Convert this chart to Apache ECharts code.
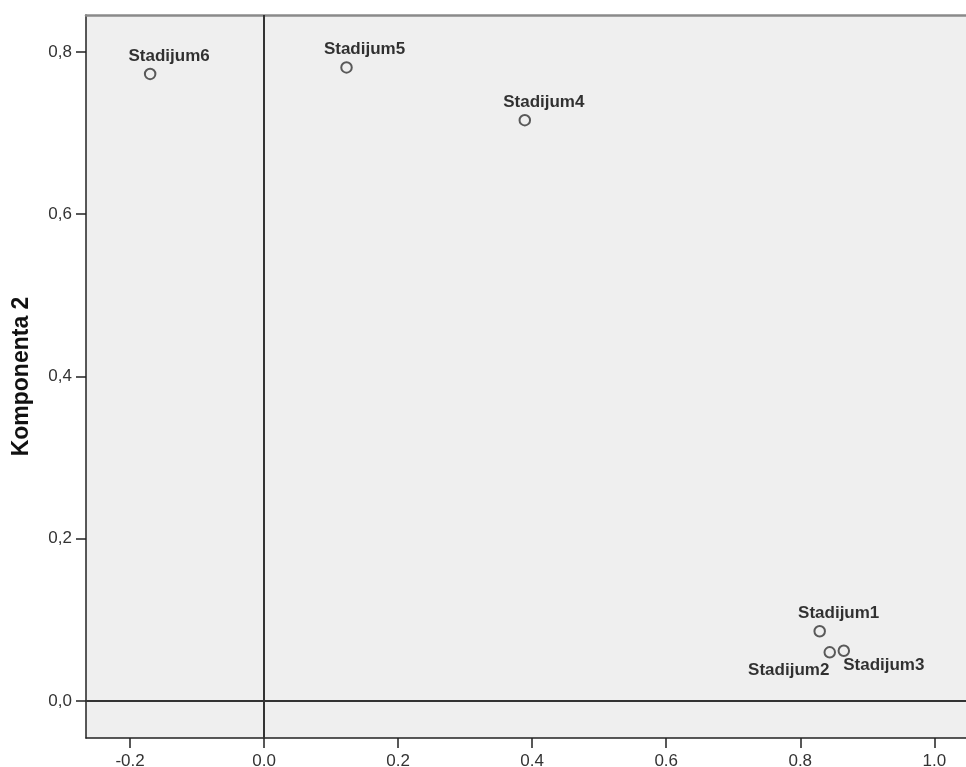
<!DOCTYPE html>
<html><head><meta charset="utf-8">
<script src="https://cdn.jsdelivr.net/npm/echarts@6/dist/echarts.min.js"></script>
<style>html,body{margin:0;padding:0;background:#fff}#c{width:966px;height:767px}</style>
</head><body><div id="c"></div>
<script>
const names = ['Stadijum1','Stadijum2','Stadijum3','Stadijum4','Stadijum5','Stadijum6'];
const comp1 = [0.829, 0.844, 0.865, 0.389, 0.123, -0.170];
const comp2 = [0.086, 0.060, 0.062, 0.716, 0.781, 0.773];
const xTicks = [-0.2, 0.0, 0.2, 0.4, 0.6, 0.8, 1.0];
const yTicks = [0.0, 0.2, 0.4, 0.6, 0.8];
const yTitle = 'Komponenta 2';

const labelPlacement = {
  Stadijum1: {position:'top', offset:[19,2]},
  Stadijum2: {position:'bottom', offset:[-41,-2]},
  Stadijum3: {position:'bottom', offset:[40,-5]},
  Stadijum4: {position:'top', offset:[19,2]},
  Stadijum5: {position:'top', offset:[18,2]},
  Stadijum6: {position:'top', offset:[19,2]}
};

const data = names.map((n,i)=>({name:n, value:[comp1[i], comp2[i]], label: labelPlacement[n]}));

const chart = echarts.init(document.getElementById('c'));
const fontFam = 'Liberation Sans, Arial, sans-serif';
const xMin = -0.2657, xMax = 1.0473;
chart.setOption({
  animation:false,
  grid:{left:86, top:15, right:0, bottom:29, show:true, backgroundColor:'#efefef', borderWidth:0,
        containLabel:false, outerBoundsMode:'none'},
  xAxis:[{
    type:'value', min:xMin, max:xMax, position:'bottom',
    axisLine:{show:true, onZero:false, lineStyle:{color:'#222', width:1.5}},
    axisTick:{show:true, length:10, customValues:xTicks, lineStyle:{color:'#222', width:1.5}},
    axisLabel:{customValues:xTicks, formatter:v=>v.toFixed(1), fontFamily:fontFam, fontSize:17, color:'#333', margin:15},
    splitLine:{show:false}
  },{
    type:'value', min:xMin, max:xMax, position:'top',
    axisLine:{show:true, onZero:false, lineStyle:{color:'#8a8a8a', width:2.5}},
    axisTick:{show:false}, axisLabel:{show:false}, splitLine:{show:false}
  }],
  yAxis:{
    type:'value', min:-0.0456, max:0.8456,
    name:yTitle, nameLocation:'middle', nameGap:53, nameRotate:90,
    nameTextStyle:{fontFamily:fontFam, fontSize:23, fontWeight:'bold', color:'#111'},
    axisLine:{show:true, onZero:false, lineStyle:{color:'#222', width:1.5}},
    axisTick:{show:true, length:10, customValues:yTicks, lineStyle:{color:'#222', width:1.5}},
    axisLabel:{customValues:yTicks, formatter:v=>v.toFixed(1).replace('.',','), fontFamily:fontFam, fontSize:17, color:'#333', margin:14},
    splitLine:{show:false}
  },
  series:[{
    type:'scatter', xAxisIndex:0, data:data,
    symbol:'circle', symbolSize:10.5,
    itemStyle:{color:'#efefef', borderColor:'#333', borderWidth:2},
    label:{show:true, formatter:'{b}', fontFamily:fontFam, fontSize:17, fontWeight:'bold', color:'#000'},
    markLine:{
      silent:true, symbol:'none', label:{show:false},
      lineStyle:{color:'#333', width:2, type:'solid'},
      data:[{xAxis:0},{yAxis:0}]
    }
  }]
});
</script></body></html>
